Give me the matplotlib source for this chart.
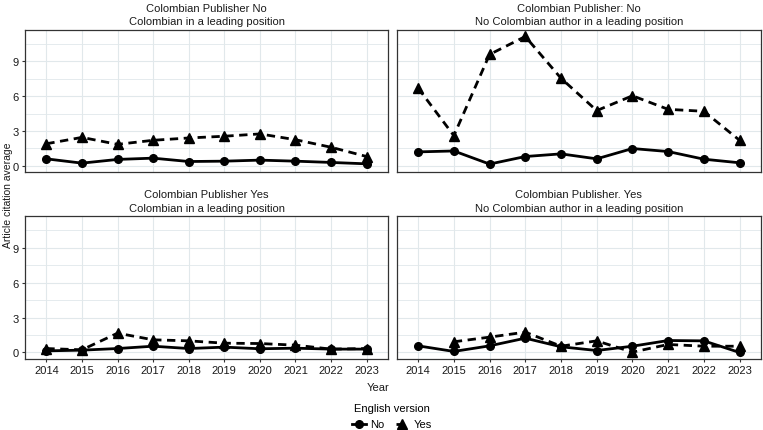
import matplotlib
matplotlib.use("Agg")
import matplotlib.pyplot as plt
from matplotlib.lines import Line2D
from matplotlib.ticker import MultipleLocator

plt.rcParams['font.family'] = ['Liberation Sans', 'DejaVu Sans']

years = [2014, 2015, 2016, 2017, 2018, 2019, 2020, 2021, 2022, 2023]

titles = [
    "Colombian Publisher No\nColombian in a leading position",
    "Colombian Publisher: No\nNo Colombian author in a leading position",
    "Colombian Publisher Yes\nColombian in a leading position",
    "Colombian Publisher. Yes\nNo Colombian author in a leading position",
]

no_p1 = [0.60, 0.23, 0.55, 0.66, 0.37, 0.40, 0.49, 0.40, 0.29, 0.17]
yes_p1 = [1.90, 2.45, 1.85, 2.20, 2.40, 2.55, 2.75, 2.25, 1.60, 0.80]

no_p2 = [1.20, 1.28, 0.15, 0.80, 1.03, 0.60, 1.49, 1.23, 0.57, 0.26]
yes_p2 = [6.70, 2.60, 9.60, 11.15, 7.55, 4.76, 6.04, 4.87, 4.70, 2.20]

no_p3 = [0.14, 0.20, 0.34, 0.54, 0.34, 0.46, 0.32, 0.37, 0.29, 0.29]
yes_p3 = [0.34, 0.23, 1.66, 1.09, 1.00, 0.80, 0.77, 0.63, 0.29, 0.34]

no_p4 = [0.57, 0.09, 0.57, 1.23, 0.49, 0.17, 0.54, 1.03, 1.00, 0.00]
yes_years_p4 = [2015, 2016, 2017, 2018, 2019, 2020, 2021, 2022, 2023]
yes_p4 = [0.92, 1.32, 1.75, 0.54, 1.00, 0.03, 0.69, 0.54, 0.54]

panels = [
    (years, no_p1, years, yes_p1),
    (years, no_p2, years, yes_p2),
    (years, no_p3, years, yes_p3),
    (years, no_p4, yes_years_p4, yes_p4),
]

W, H = 763, 431
fig = plt.figure(figsize=(W / 100, H / 100), dpi=100)

# pixel boxes: left, right, top, bottom
xs = [(25, 388), (396.7, 761)]
ys = [(31, 173.3), (217.3, 360)]

grid_col = "#e1e8eb"
LW = 2.0
axes = []
for i in range(4):
    r, c = divmod(i, 2)
    x0, x1 = xs[c]
    yt, yb = ys[r]
    ax = fig.add_axes([x0 / W, 1 - yb / H, (x1 - x0) / W, (yb - yt) / H])
    axes.append(ax)
    nx, ny, yx, yy = panels[i]
    ax.plot(nx, ny, color="black", lw=LW, ls="-", marker="o", ms=5.5, zorder=3)
    ax.plot(yx, yy, color="black", lw=LW, ls=(0, (3, 2)), marker="^", ms=6.5, zorder=3)
    ax.set_xlim(2014 - 0.6, 2023 + 0.6)
    ax.set_ylim(-0.56, 11.71)
    ax.set_xticks(years)
    ax.yaxis.set_major_locator(MultipleLocator(3))
    ax.yaxis.set_minor_locator(MultipleLocator(1.5))
    ax.grid(True, which="major", color=grid_col, lw=0.8)
    ax.grid(True, which="minor", axis="y", color=grid_col, lw=0.6)
    ax.set_axisbelow(True)
    for s in ax.spines.values():
        s.set_color("#333333")
        s.set_linewidth(0.9)
    ax.tick_params(axis="both", which="major", length=2.5, width=0.8, color="#333333",
                   labelsize=8, labelcolor="#1a1a1a", pad=2)
    ax.tick_params(axis="both", which="minor", length=0)
    if c == 1:
        ax.tick_params(axis="y", which="major", length=0, labelleft=False)
    if r == 0:
        ax.tick_params(axis="x", which="major", length=0, labelbottom=False)
    ax.set_title(titles[i], fontsize=8, color="#1a1a1a", pad=4, linespacing=1.45)

fig.text(378 / W, 1 - 388 / H, "Year", ha="center", va="center", fontsize=8, color="#1a1a1a")
fig.text(8 / W, 1 - 195 / H, "Article citation average", ha="center", va="center",
         rotation=90, fontsize=7.5, color="#1a1a1a")

handles = [
    Line2D([], [], color="black", lw=LW, ls="-", marker="o", ms=5.5),
    Line2D([], [], color="black", lw=LW, ls=(0, (3, 2)), marker="^", ms=6.5),
]
leg = fig.legend(handles, ["No", "Yes"], title="English version", loc="center",
                 bbox_to_anchor=(392 / W, 1 - 417 / H), ncol=2, frameon=False,
                 fontsize=8, title_fontsize=8, handlelength=1.2, columnspacing=1.0,
                 handletextpad=0.4, borderpad=0.1, labelspacing=0.2)
leg._legend_box.sep = 5

fig.savefig("out.png", dpi=100)
